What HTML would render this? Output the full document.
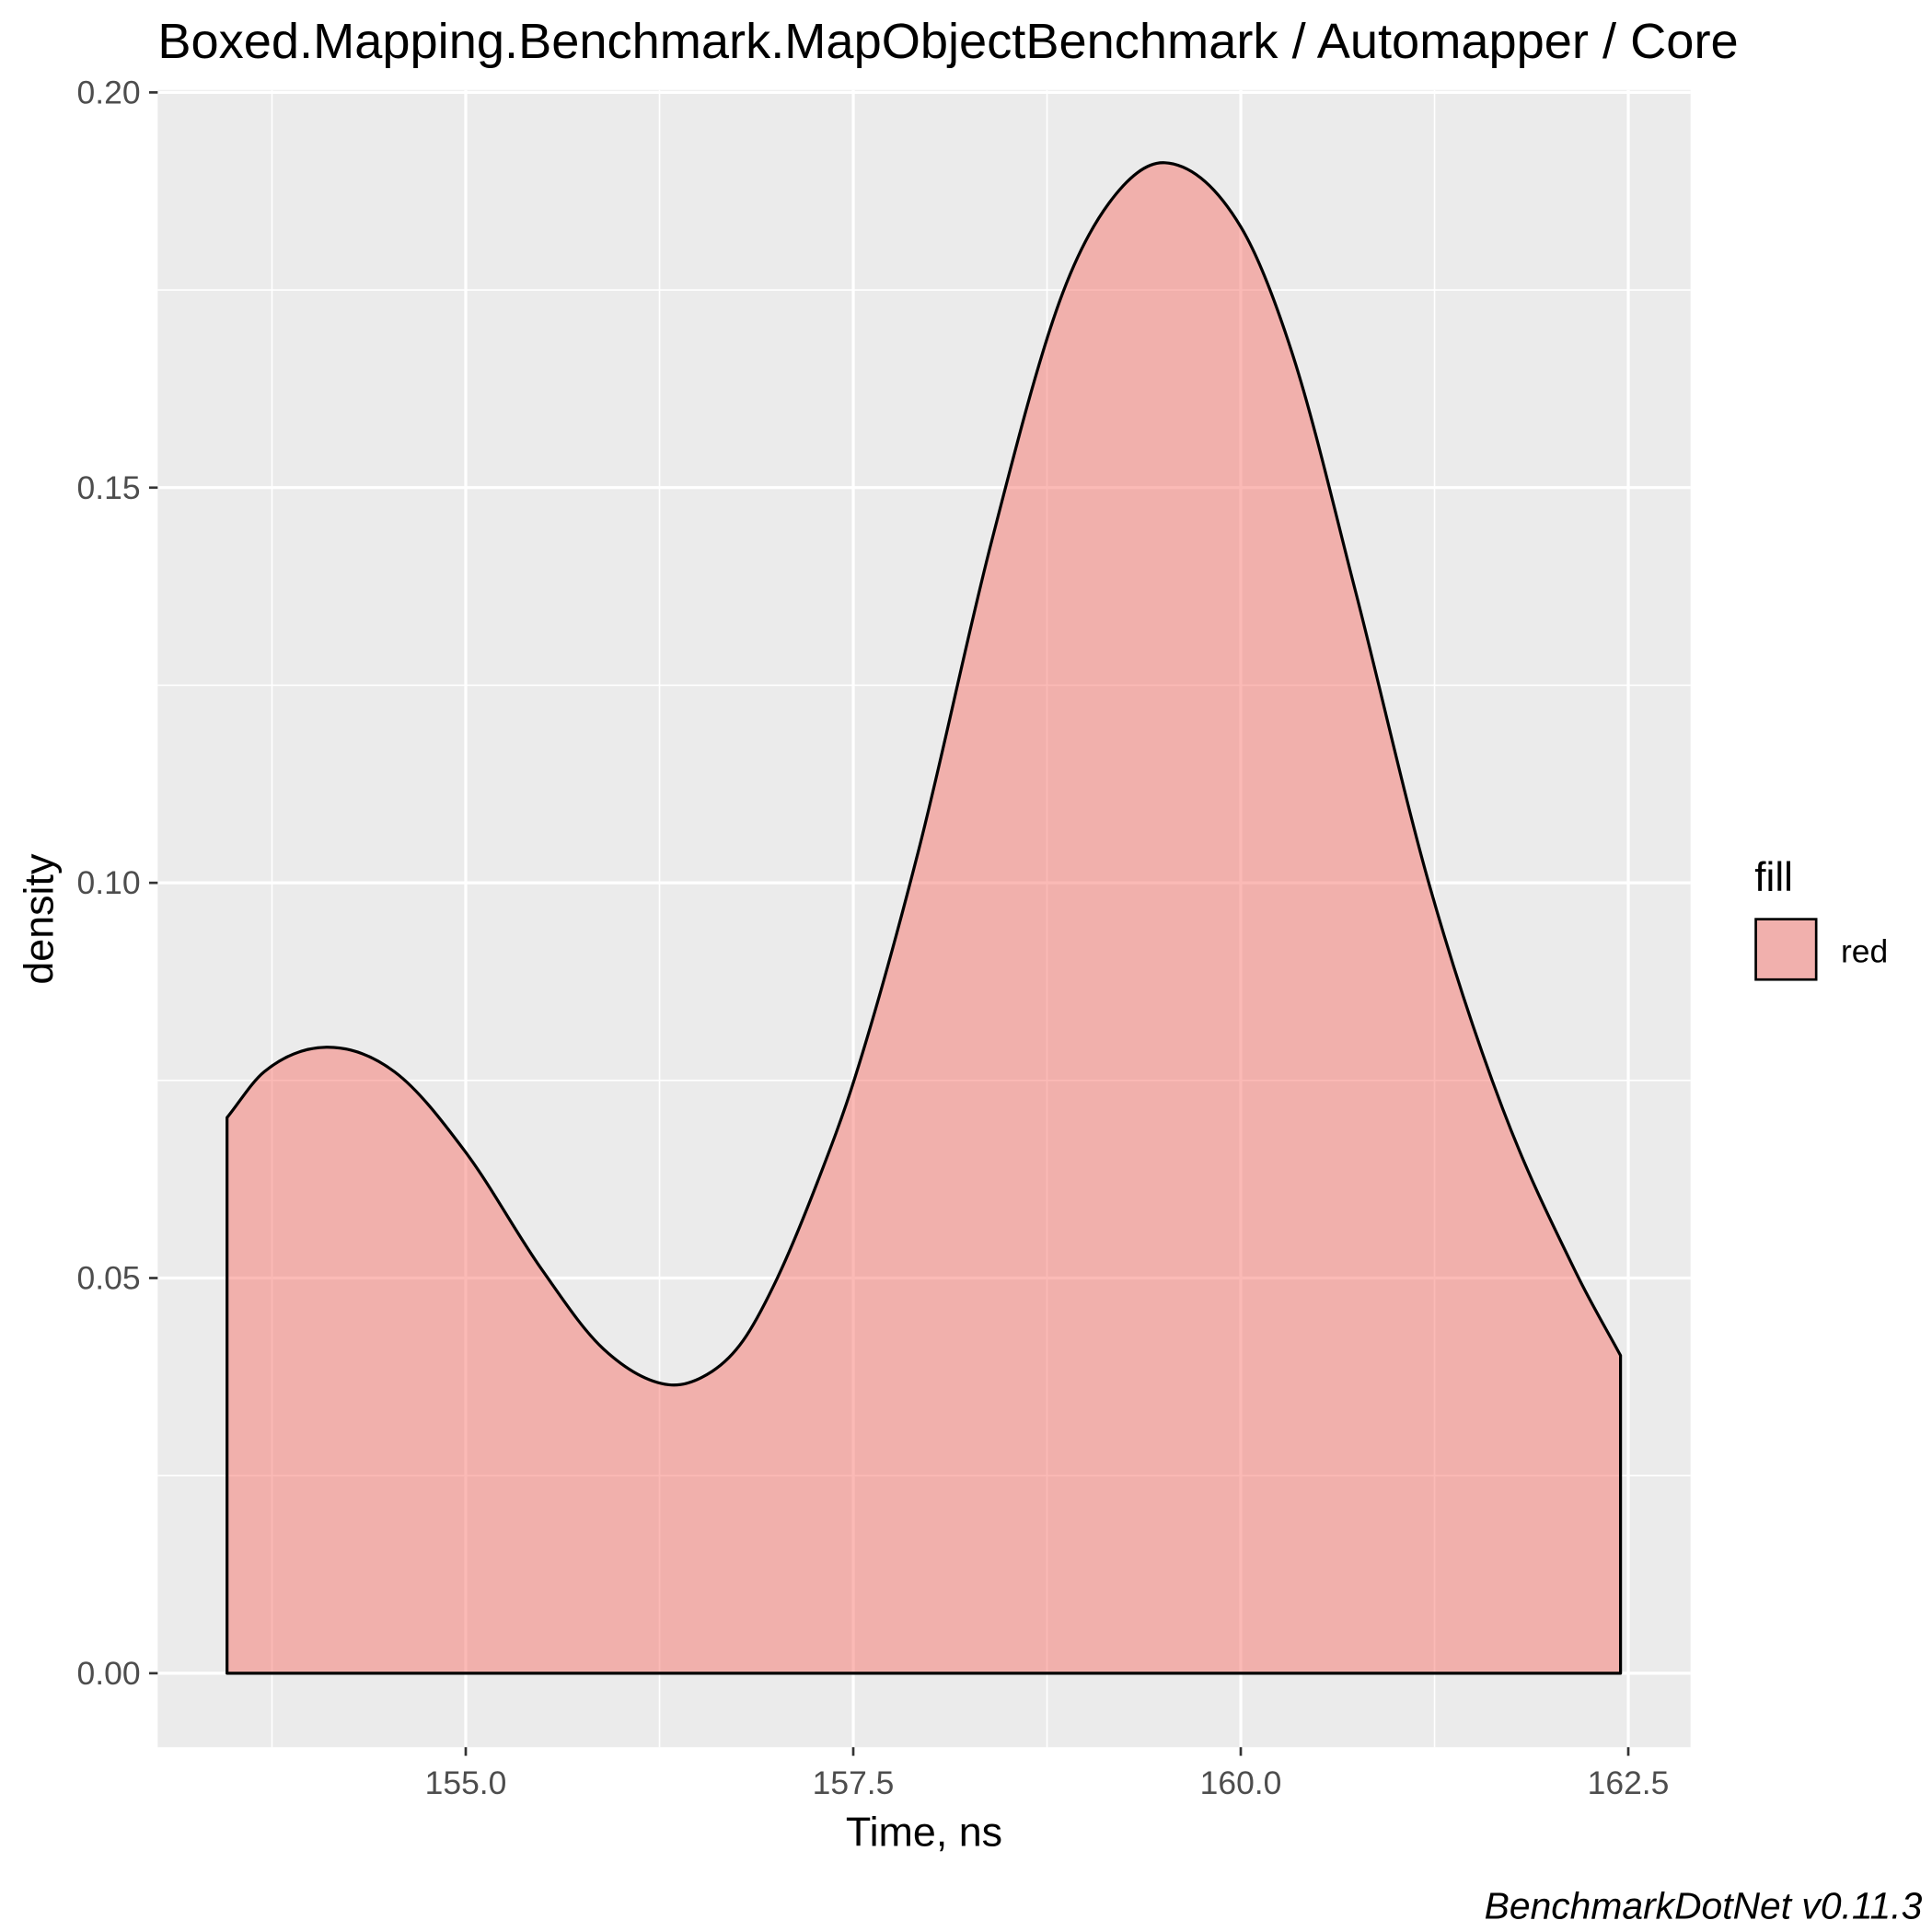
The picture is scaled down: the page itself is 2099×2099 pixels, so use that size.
<!DOCTYPE html>
<html><head><meta charset="utf-8"><style>
html,body{margin:0;padding:0;background:#fff;}
svg{display:block;font-family:"Liberation Sans",Arial,sans-serif;}
</style></head><body>
<svg id="chart" width="2099" height="2099" viewBox="0 0 1568 1568" xmlns="http://www.w3.org/2000/svg">
<text x="128" y="47" font-size="40.5" fill="#000">Boxed.Mapping.Benchmark.MapObjectBenchmark / Automapper / Core</text>
<rect x="128" y="73" width="1244" height="1345" fill="#ebebeb"/>
<g id="grid"></g>
<g id="marks"></g>
<g id="axes"></g>
<text x="750" y="1498" font-size="33.5" text-anchor="middle" fill="#000">Time, ns</text>
<text transform="translate(43,746) rotate(-90)" font-size="33.5" text-anchor="middle" fill="#000">density</text>
<text x="1424" y="723" font-size="33" fill="#000">fill</text>
<rect x="1425" y="746" width="49" height="49" fill="#f1b0ad" stroke="#000" stroke-width="2"/>
<text x="1494" y="781" font-size="26.5" fill="#000">red</text>
<text x="1560" y="1557" font-size="30.5" font-style="italic" text-anchor="end" fill="#000">BenchmarkDotNet v0.11.3</text>
</svg>
<script>
const xTicks=[155.0,157.5,160.0,162.5];
const xMinor=[153.75,156.25,158.75,161.25];
const yTicks=[0,0.05,0.10,0.15,0.20];
const yMinor=[0.025,0.075,0.125,0.175];
const timeValues=[153.46,153.70,154.10,154.54,155.0,155.49,155.89,156.31,156.59,156.79,157.01,157.27,157.51,157.92,158.39,158.83,159.15,159.51,160.0,160.34,160.74,161.22,161.69,162.17,162.45];
const densityValues=[0.0703,0.0761,0.0792,0.0761,0.0659,0.0511,0.041,0.0365,0.0382,0.0421,0.0500,0.0622,0.0753,0.104,0.143,0.1735,0.186,0.1911,0.183,0.1665,0.1369,0.0995,0.0714,0.0504,0.0402];
const NS="http://www.w3.org/2000/svg";
function xs(v){return 378+(v-155)*125.8;}
function ys(v){return 1358-v*6415;}
function mk(tag,attrs,parent){const e=document.createElementNS(NS,tag);for(const k in attrs)e.setAttribute(k,attrs[k]);document.getElementById(parent).appendChild(e);return e;}
xMinor.forEach(v=>{const e=mk('line',{x1:xs(v),x2:xs(v),y1:73,y2:1418,stroke:'#fff','stroke-width':1.2},'grid');

});
yMinor.forEach(v=>{const e=mk('line',{x1:128,x2:1372,y1:ys(v),y2:ys(v),stroke:'#fff','stroke-width':1.2},'grid');

});
xTicks.forEach(v=>{const e=mk('line',{x1:xs(v),x2:xs(v),y1:73,y2:1418,stroke:'#fff','stroke-width':2.4},'grid');


const t=mk('line',{x1:xs(v),x2:xs(v),y1:1418,y2:1425,stroke:'#333','stroke-width':2},'axes');


const l=mk('text',{x:xs(v),y:1456,'font-size':26.5,'text-anchor':'middle',fill:'#4d4d4d'},'axes');l.textContent=v.toFixed(1);

});
yTicks.forEach(v=>{const e=mk('line',{x1:128,x2:1372,y1:ys(v),y2:ys(v),stroke:'#fff','stroke-width':2.4},'grid');


const t=mk('line',{x1:121,x2:128,y1:ys(v),y2:ys(v),stroke:'#333','stroke-width':2},'axes');


const l=mk('text',{x:114,y:ys(v)+9,'font-size':26.5,'text-anchor':'end',fill:'#4d4d4d'},'axes');l.textContent=v.toFixed(2);

});
const P=timeValues.map((t,i)=>[xs(t),ys(densityValues[i])]);
const n=P.length;
const S=[];for(let i=0;i<n-1;i++)S.push((P[i+1][1]-P[i][1])/(P[i+1][0]-P[i][0]));
const M=P.map((p,i)=>i===0?S[0]:(i===n-1?S[n-2]:(S[i-1]+S[i])/2));
let d=`M${P[0][0]},${ys(0)} L${P[0][0]},${P[0][1]}`;
for(let i=0;i<n-1;i++){const p1=P[i],p2=P[i+1],dx=(p2[0]-p1[0])/3;
d+=` C${p1[0]+dx},${p1[1]+M[i]*dx} ${p2[0]-dx},${p2[1]-M[i+1]*dx} ${p2[0]},${p2[1]}`;}
d+=` L${P[n-1][0]},${ys(0)} Z`;
const area=mk('path',{d:d,fill:'#f8766d','fill-opacity':0.5,stroke:'#000','stroke-width':2.4,'stroke-linejoin':'round'},'marks');


</script>
</body></html>
